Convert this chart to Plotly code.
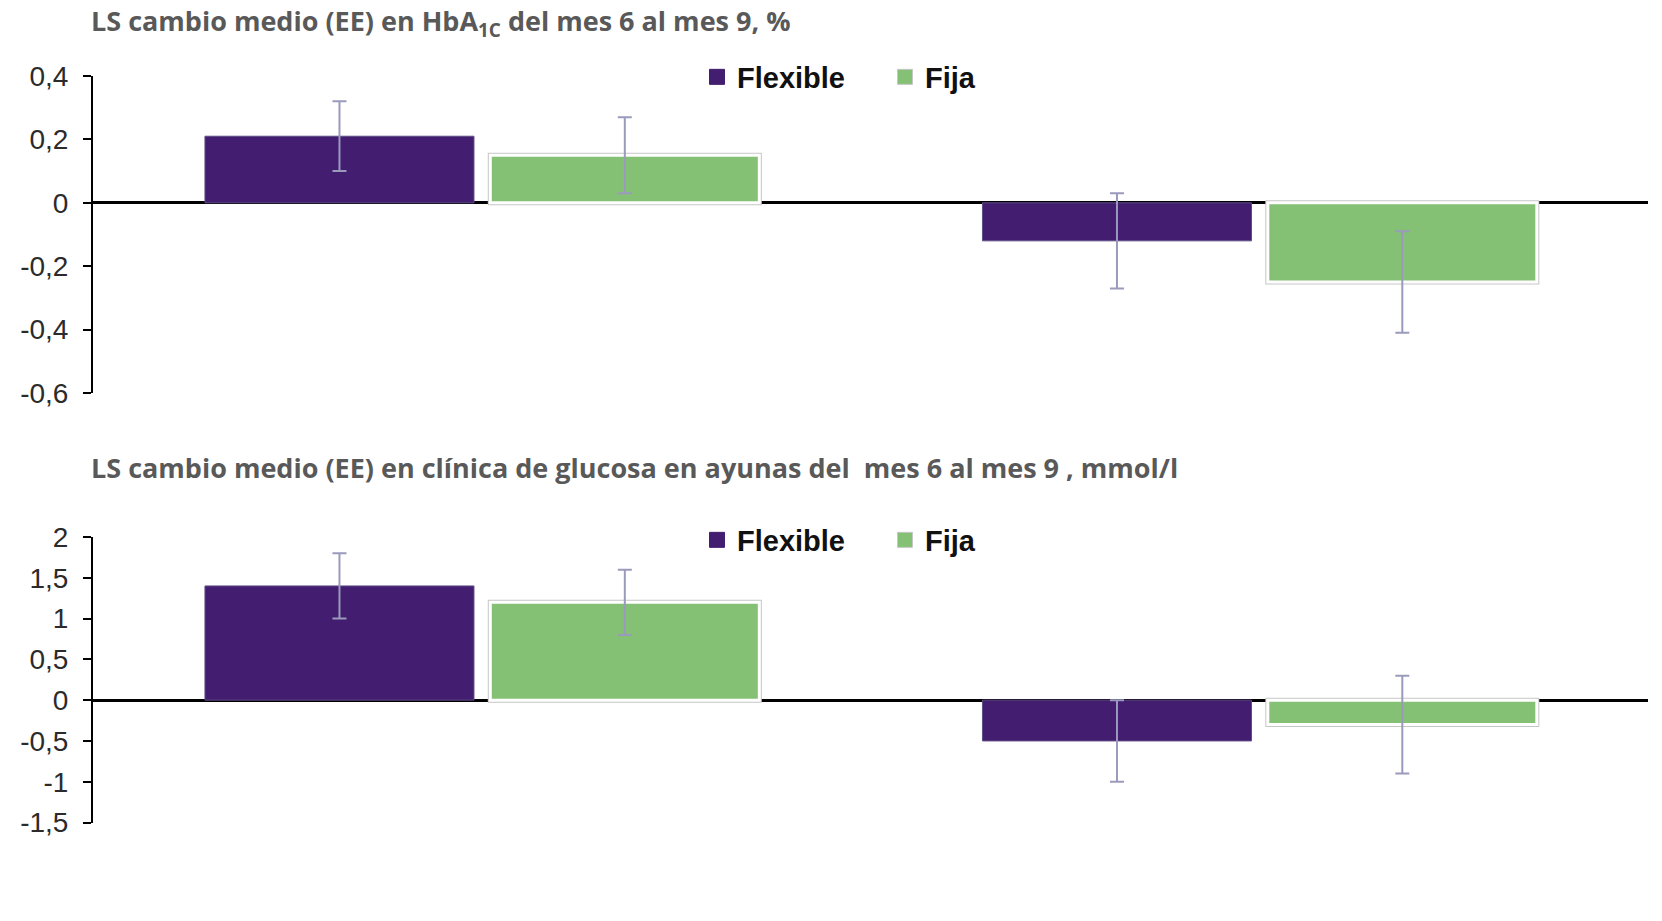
import plotly.graph_objects as go

# Two treatment groups shown side by side in each panel
grupos = ["Grupo 1", "Grupo 2"]
series = ["Flexible", "Fija"]

# HbA1c change from month 6 to month 9 (%), LS mean and standard error
hba1c_flexible = [0.21, -0.12]
hba1c_flexible_ee = [0.11, 0.15]
hba1c_fija = [0.15, -0.25]
hba1c_fija_ee = [0.12, 0.16]

# Fasting clinic glucose change from month 6 to month 9 (mmol/l)
glucosa_flexible = [1.4, -0.5]
glucosa_flexible_ee = [0.4, 0.5]
glucosa_fija = [1.2, -0.3]
glucosa_fija_ee = [0.4, 0.6]

hba1c_ticks = [0.4, 0.2, 0, -0.2, -0.4, -0.6]
hba1c_ticktext = ["0,4", "0,2", "0", "-0,2", "-0,4", "-0,6"]
glucosa_ticks = [2, 1.5, 1, 0.5, 0, -0.5, -1, -1.5]
glucosa_ticktext = ["2", "1,5", "1", "0,5", "0", "-0,5", "-1", "-1,5"]

titulo_hba1c = "LS cambio medio (EE) en HbA<sub>1C</sub> del mes 6 al mes 9, %"
titulo_glucosa = "LS cambio medio (EE) en clínica de glucosa en ayunas del\u00a0 mes 6 al mes 9 , mmol/l"

MORADO = "#421d70"
VERDE = "#84c174"
ERROR = "#9a9abc"
BAR_W = 0.346
OFF_FLEX = -0.356
OFF_FIJA = 0.011

fig = go.Figure()


def add_panel(xa, ya, leg, flex, flex_ee, fija, fija_ee):
    # light grey frame behind the Fija bars
    fig.add_trace(go.Bar(
        x=grupos, y=fija, xaxis=xa, yaxis=ya, legend=leg,
        width=BAR_W, offset=OFF_FIJA, showlegend=False, hoverinfo="skip",
        marker=dict(color="rgba(0,0,0,0)", line=dict(color="#c6c6c6", width=5)),
    ))
    fig.add_trace(go.Bar(
        x=grupos, y=flex, name=series[0], xaxis=xa, yaxis=ya, legend=leg,
        width=BAR_W, offset=OFF_FLEX, showlegend=False,
        marker=dict(color=MORADO, line=dict(color="#5e4d85", width=1)),
        error_y=dict(type="data", array=flex_ee, color=ERROR, thickness=2, width=7),
    ))
    fig.add_trace(go.Bar(
        x=grupos, y=fija, name=series[1], xaxis=xa, yaxis=ya, legend=leg,
        width=BAR_W, offset=OFF_FIJA, showlegend=False,
        marker=dict(color=VERDE, line=dict(color="white", width=3)),
        error_y=dict(type="data", array=fija_ee, color=ERROR, thickness=2, width=7),
    ))
    # legend keys (square swatches)
    for nombre, color, borde in ((series[0], MORADO, MORADO), (series[1], VERDE, "#c6c6c6")):
        fig.add_trace(go.Scatter(
            x=[None], y=[None], name=nombre, mode="markers", xaxis=xa, yaxis=ya,
            legend=leg, hoverinfo="skip",
            marker=dict(symbol="square", size=15, color=color, line=dict(color=borde, width=1)),
        ))


add_panel("x", "y", "legend", hba1c_flexible, hba1c_flexible_ee, hba1c_fija, hba1c_fija_ee)
add_panel("x2", "y2", "legend2", glucosa_flexible, glucosa_flexible_ee, glucosa_fija, glucosa_fija_ee)

W, H = 1662, 921
x_dom = [93 / W, 1648 / W]

tick_font = dict(family="Liberation Sans, Arial, sans-serif", size=28, color="#2b2b2b")
yaxis_common = dict(
    showgrid=False, showline=True, linecolor="black", linewidth=2,
    ticks="outside", ticklen=8, tickwidth=2, tickcolor="black",
    tickmode="array", tickfont=tick_font, ticklabelstandoff=9,
    zeroline=True, zerolinecolor="black", zerolinewidth=2.5,
    layer="above traces",
)
xaxis_common = dict(
    showgrid=False, showline=False, zeroline=False, showticklabels=False,
    ticks="", range=[-0.5, 1.5], categoryorder="array", categoryarray=grupos,
)

legend_common = dict(
    orientation="h", xanchor="left", yanchor="middle",
    font=dict(family="Liberation Sans, Arial, sans-serif", size=29, color="#111111", weight="bold"),
    bgcolor="rgba(0,0,0,0)", entrywidth=143, entrywidthmode="pixels",
    itemsizing="trace",
)

title_font = dict(family="Open Sans, sans-serif", size=27, color="#595959", weight="bold")

fig.update_layout(
    width=W, height=H,
    margin=dict(l=0, r=0, t=0, b=0, autoexpand=False),
    paper_bgcolor="white", plot_bgcolor="white",
    barmode="overlay",
    xaxis=dict(domain=x_dom, anchor="y", **xaxis_common),
    yaxis=dict(domain=[1 - 393 / H, 1 - 76 / H], anchor="x", range=[-0.6, 0.4],
               tickvals=hba1c_ticks, ticktext=hba1c_ticktext, **yaxis_common),
    xaxis2=dict(domain=x_dom, anchor="y2", **xaxis_common),
    yaxis2=dict(domain=[1 - 822.5 / H, 1 - 537 / H], anchor="x2", range=[-1.5, 2],
                tickvals=glucosa_ticks, ticktext=glucosa_ticktext, **yaxis_common),
    legend=dict(x=697 / W, y=1 - 77 / H, **legend_common),
    legend2=dict(x=697 / W, y=1 - 540 / H, **legend_common),
    annotations=[
        dict(text=titulo_hba1c, x=89 / W, y=1 - 22 / H, xref="paper", yref="paper",
             xanchor="left", yanchor="middle", showarrow=False, font=title_font),
        dict(text=titulo_glucosa, x=89 / W, y=1 - 467 / H, xref="paper", yref="paper",
             xanchor="left", yanchor="middle", showarrow=False, font=title_font),
    ],
)

fig.write_html("out.html")
